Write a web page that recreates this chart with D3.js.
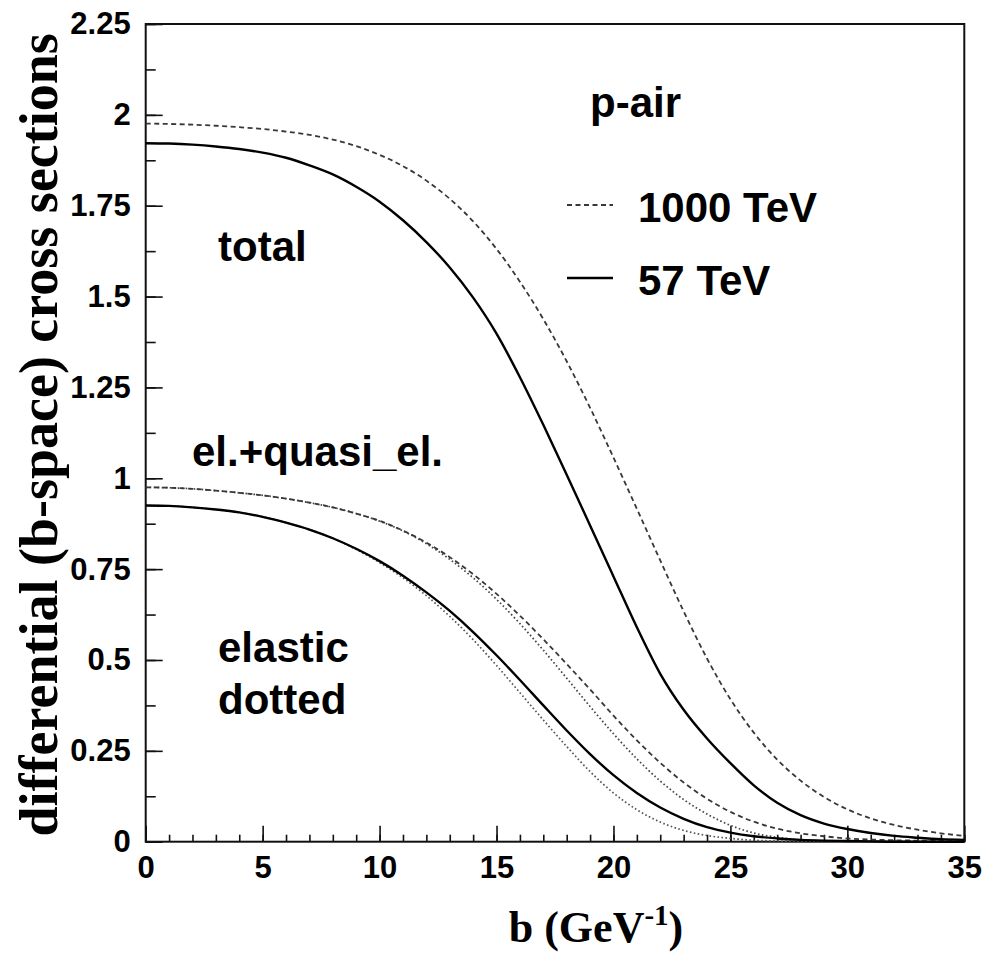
<!DOCTYPE html>
<html>
<head>
<meta charset="utf-8">
<script src="https://cdn.jsdelivr.net/npm/d3@7/dist/d3.min.js"></script>
<style>
  body { margin: 0; background: #fff; }
  svg { display: block; }
</style>
</head>
<body>
<script>
// impact parameter b (GeV^-1)
const bVals = [0,1,2,3,4,5,6,7,8,9,10,11,12,13,14,15,16,17,18,19,20,21,22,23,24,25,26,27,28,29,30,31,32,33,34,35];

// total, 1000 TeV (dashed) and 57 TeV (solid)
const total1000 = [1.976,1.975,1.973,1.970,1.966,1.961,1.954,1.945,1.932,1.914,1.890,1.859,1.819,1.769,1.707,1.631,1.541,1.438,1.322,1.194,1.057,0.916,0.774,0.634,0.504,0.392,0.300,0.226,0.168,0.123,0.089,0.064,0.046,0.033,0.023,0.016];
const total57 = [1.922,1.921,1.918,1.913,1.906,1.896,1.882,1.861,1.836,1.802,1.761,1.710,1.650,1.580,1.497,1.398,1.278,1.147,1.010,0.870,0.730,0.590,0.462,0.363,0.284,0.216,0.155,0.107,0.073,0.050,0.035,0.024,0.016,0.011,0.007,0.005];

// el.+quasi_el.
const quasi1000 = [0.975,0.974,0.971,0.966,0.960,0.953,0.944,0.933,0.920,0.903,0.883,0.856,0.823,0.783,0.736,0.682,0.622,0.557,0.489,0.419,0.347,0.279,0.217,0.163,0.118,0.082,0.055,0.036,0.023,0.015,0.009,0.006,0.004,0.003,0.002,0.001];
const quasi57 = [0.925,0.924,0.920,0.914,0.906,0.894,0.878,0.859,0.835,0.806,0.772,0.732,0.686,0.635,0.577,0.513,0.445,0.375,0.306,0.241,0.183,0.134,0.094,0.063,0.040,0.025,0.015,0.009,0.005,0.003,0.002,0.001,0,0,0,0];

// elastic (dotted)
const elastic1000 = [0.975,0.974,0.971,0.966,0.960,0.953,0.944,0.933,0.920,0.903,0.882,0.855,0.820,0.777,0.726,0.667,0.600,0.527,0.450,0.372,0.297,0.228,0.167,0.116,0.076,0.045,0.024,0.012,0.005,0.002,0.001,0,0,0,0,0];
const elastic57 = [0.925,0.924,0.920,0.914,0.906,0.894,0.878,0.859,0.835,0.804,0.768,0.726,0.677,0.620,0.556,0.485,0.410,0.335,0.262,0.193,0.134,0.088,0.054,0.031,0.017,0.009,0.004,0.002,0.001,0,0,0,0,0,0,0];

const xMajor = [0,5,10,15,20,25,30,35];
const yMajor = [0,0.25,0.5,0.75,1,1.25,1.5,1.75,2,2.25];
const yLabels = ["0","0.25","0.5","0.75","1","1.25","1.5","1.75","2","2.25"];

const W = 988, H = 959;
const margin = {top: 24, right: 23.7, bottom: 117.3, left: 145.7};
const width = W - margin.left - margin.right,
      height = H - margin.top - margin.bottom;

const svg = d3.select("body").append("svg")
    .attr("width", W)
    .attr("height", H);

const g = svg.append("g")
    .attr("transform", "translate(" + margin.left + "," + margin.top + ")");

const x = d3.scaleLinear().domain([0, 35]).range([0, width]);
const y = d3.scaleLinear().domain([0, 2.25]).range([height, 0]);

const tickFont = "bold 31px 'Liberation Sans', Arial, sans-serif";

// minor ticks first, then major ticks with labels (ticks point inward)
g.append("g")
    .attr("transform", "translate(0," + height + ")")
    .call(d3.axisBottom(x).tickValues(d3.range(0, 36, 1)).tickSize(-7).tickFormat(""));
g.append("g")
    .attr("transform", "translate(0," + height + ")")
    .call(d3.axisBottom(x).tickValues(xMajor).tickSize(-16).tickPadding(14).tickFormat(d3.format("d")));

g.append("g")
    .call(d3.axisLeft(y).tickValues(d3.range(0, 2.26, 0.125)).tickSize(-10).tickFormat(""));
g.append("g")
    .call(d3.axisLeft(y).tickValues(yMajor).tickSize(-17).tickPadding(15)
        .tickFormat((d, i) => yLabels[i]));

g.selectAll(".domain").remove();
g.selectAll(".tick line").attr("stroke", "#111").attr("stroke-width", 1.6);
g.selectAll(".tick text")
    .attr("fill", "#000")
    .style("font", tickFont);

// frame
g.append("rect")
    .attr("x", 0).attr("y", 0)
    .attr("width", width).attr("height", height)
    .attr("fill", "none")
    .attr("stroke", "#111")
    .attr("stroke-width", 2);

const line = d3.line()
    .x((d, i) => x(bVals[i]))
    .y(d => y(d))
    .curve(d3.curveMonotoneX);

const series = [
  {values: elastic57,   stroke: "#555", width: 1.7, dash: "1.6,2.4"},
  {values: elastic1000, stroke: "#444", width: 1.7, dash: "1.6,2.4"},
  {values: quasi1000,   stroke: "#383838", width: 1.8, dash: "5,3.5"},
  {values: total1000,   stroke: "#383838", width: 1.8, dash: "5,3.5"},
  {values: quasi57,     stroke: "#000", width: 2.4, dash: null},
  {values: total57,     stroke: "#000", width: 2.4, dash: null}
];

g.selectAll(".curve")
    .data(series)
    .enter().append("path")
    .attr("class", "curve")
    .attr("d", d => line(d.values))
    .attr("fill", "none")
    .attr("stroke", d => d.stroke)
    .attr("stroke-width", d => d.width)
    .attr("stroke-dasharray", d => d.dash);

// annotations
const labFont = "bold 42px 'Liberation Sans', Arial, sans-serif";
const notes = [
  {t: "p-air", x: 590, y: 117},
  {t: "total", x: 218, y: 261},
  {t: "el.+quasi_el.", x: 192, y: 466},
  {t: "elastic", x: 218, y: 662},
  {t: "dotted", x: 218, y: 714}
];
svg.selectAll(".note")
    .data(notes)
    .enter().append("text")
    .attr("class", "note")
    .attr("x", d => d.x)
    .attr("y", d => d.y)
    .style("font", labFont)
    .text(d => d.t);

// legend
const legend = [
  {t: "1000 TeV", y: 205, dash: "5,3.5", w: 1.8, stroke: "#383838"},
  {t: "57 TeV", y: 278, dash: null, w: 2.4, stroke: "#000"}
];
const lg = svg.append("g");
lg.selectAll("line")
    .data(legend)
    .enter().append("line")
    .attr("x1", 567).attr("x2", 613)
    .attr("y1", d => d.y).attr("y2", d => d.y)
    .attr("stroke", d => d.stroke)
    .attr("stroke-width", d => d.w)
    .attr("stroke-dasharray", d => d.dash);
lg.selectAll("text")
    .data(legend)
    .enter().append("text")
    .attr("x", 638)
    .attr("y", d => d.y + 17)
    .style("font", labFont)
    .text(d => d.t);

// axis titles
const titleFont = "bold 44px 'Liberation Serif', 'Times New Roman', serif";
const xt = svg.append("text")
    .attr("x", 596)
    .attr("y", 942)
    .attr("text-anchor", "middle")
    .style("font", titleFont);
xt.append("tspan").text("b (GeV");
xt.append("tspan").attr("dy", -17).style("font-size", "29px").text("-1");
xt.append("tspan").attr("dy", 17).text(")");

svg.append("text")
    .attr("transform", "translate(57," + (margin.top + height / 2 + 2) + ") rotate(-90)")
    .attr("text-anchor", "middle")
    .style("font", "bold 54px 'Liberation Serif', 'Times New Roman', serif")
    .text("differential (b-space) cross sections");
</script>
</body>
</html>
